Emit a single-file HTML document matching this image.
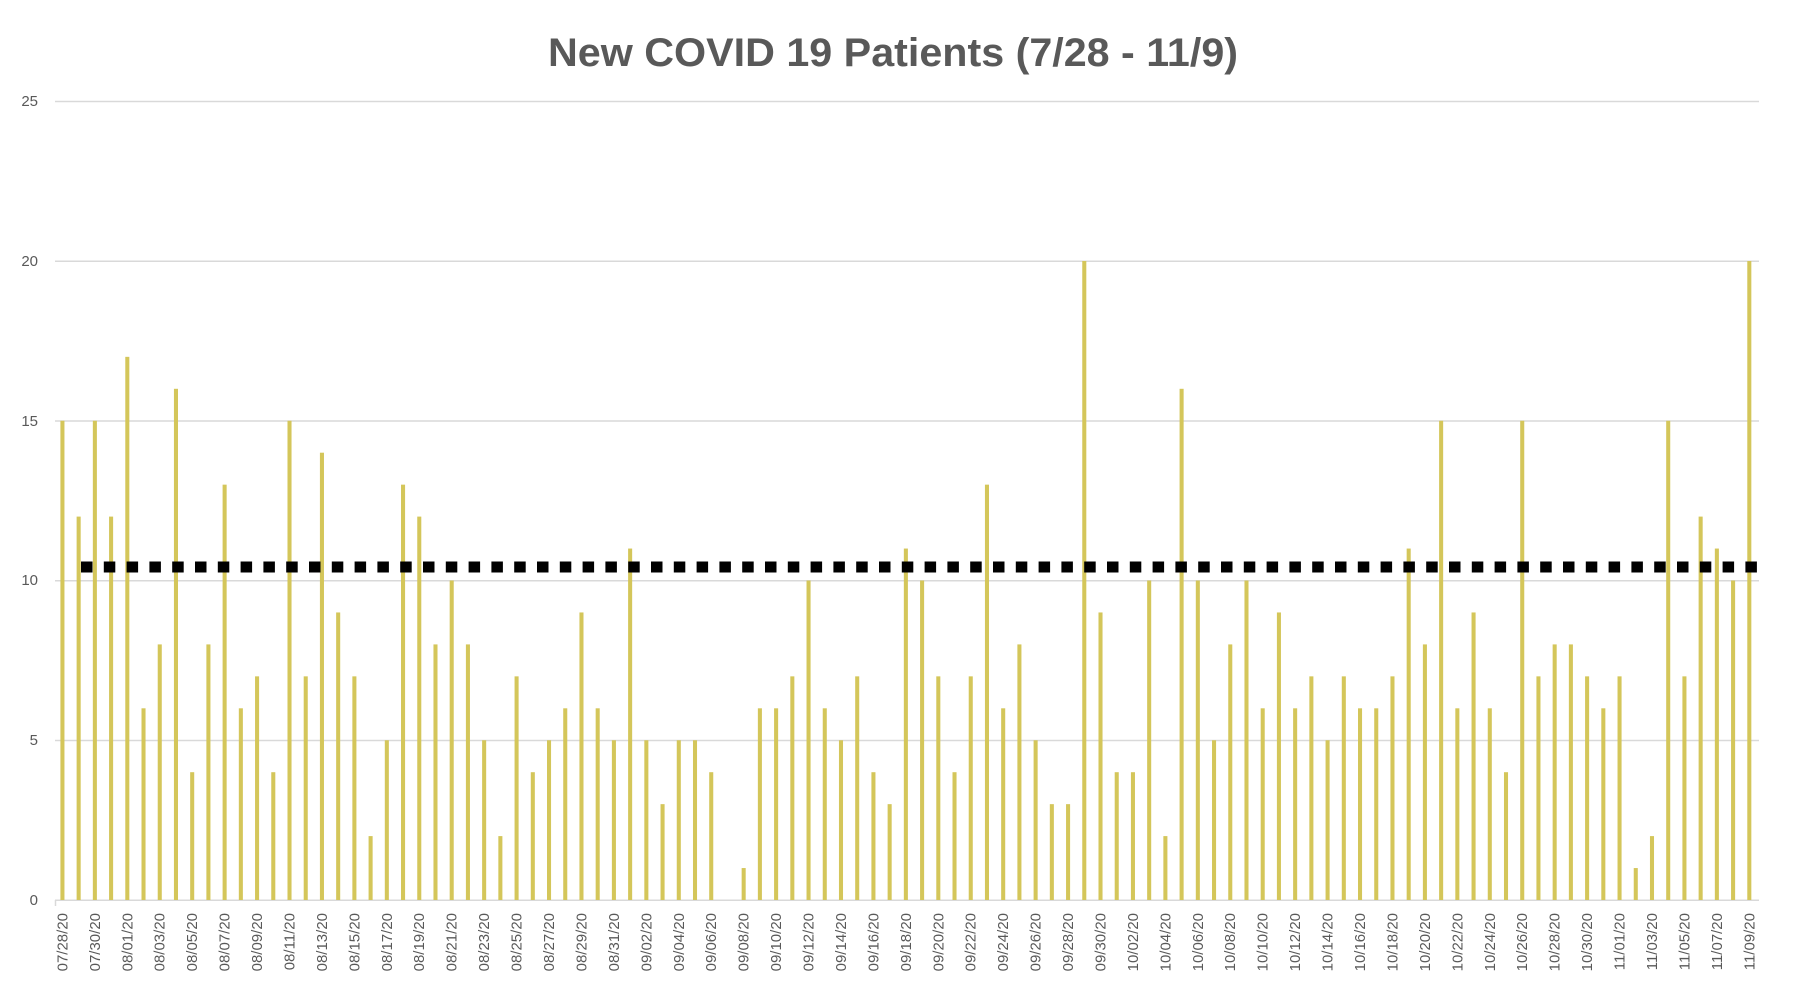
<!DOCTYPE html>
<html><head><meta charset="utf-8"><style>html,body{margin:0;padding:0;background:#fff}svg{display:block}</style></head>
<body>
<svg width="1812" height="1000" viewBox="0 0 1812 1000" xmlns="http://www.w3.org/2000/svg" font-family="Liberation Sans, sans-serif">
<rect width="1812" height="1000" fill="#fff"/>
<text x="893" y="66" text-anchor="middle" font-size="40" font-weight="bold" fill="#595959" textLength="690" lengthAdjust="spacingAndGlyphs">New COVID 19 Patients (7/28 - 11/9)</text>
<g stroke="#d9d9d9" stroke-width="1.5">
<line x1="55" y1="101.5" x2="1759" y2="101.5"/>
<line x1="55" y1="261.3" x2="1759" y2="261.3"/>
<line x1="55" y1="421" x2="1759" y2="421"/>
<line x1="55" y1="580.8" x2="1759" y2="580.8"/>
<line x1="55" y1="740.5" x2="1759" y2="740.5"/>
<line x1="55" y1="900.3" x2="1759" y2="900.3"/>
</g>
<g font-size="15" fill="#595959" text-anchor="end">
<text x="38" y="106">25</text><text x="38" y="266">20</text><text x="38" y="426">15</text><text x="38" y="585">10</text><text x="38" y="745">5</text><text x="38" y="905">0</text>
</g>
<g transform="translate(60.4,900) scale(16.22,-31.95)" fill="#d4c65a">
<rect x="0" width="0.25" height="15"/><rect x="1" width="0.25" height="12"/><rect x="2" width="0.25" height="15"/><rect x="3" width="0.25" height="12"/><rect x="4" width="0.25" height="17"/><rect x="5" width="0.25" height="6"/><rect x="6" width="0.25" height="8"/><rect x="7" width="0.25" height="16"/><rect x="8" width="0.25" height="4"/><rect x="9" width="0.25" height="8"/>
<rect x="10" width="0.25" height="13"/><rect x="11" width="0.25" height="6"/><rect x="12" width="0.25" height="7"/><rect x="13" width="0.25" height="4"/><rect x="14" width="0.25" height="15"/><rect x="15" width="0.25" height="7"/><rect x="16" width="0.25" height="14"/><rect x="17" width="0.25" height="9"/><rect x="18" width="0.25" height="7"/><rect x="19" width="0.25" height="2"/>
<rect x="20" width="0.25" height="5"/><rect x="21" width="0.25" height="13"/><rect x="22" width="0.25" height="12"/><rect x="23" width="0.25" height="8"/><rect x="24" width="0.25" height="10"/><rect x="25" width="0.25" height="8"/><rect x="26" width="0.25" height="5"/><rect x="27" width="0.25" height="2"/><rect x="28" width="0.25" height="7"/><rect x="29" width="0.25" height="4"/>
<rect x="30" width="0.25" height="5"/><rect x="31" width="0.25" height="6"/><rect x="32" width="0.25" height="9"/><rect x="33" width="0.25" height="6"/><rect x="34" width="0.25" height="5"/><rect x="35" width="0.25" height="11"/><rect x="36" width="0.25" height="5"/><rect x="37" width="0.25" height="3"/><rect x="38" width="0.25" height="5"/><rect x="39" width="0.25" height="5"/>
<rect x="40" width="0.25" height="4"/><rect x="42" width="0.25" height="1"/><rect x="43" width="0.25" height="6"/><rect x="44" width="0.25" height="6"/><rect x="45" width="0.25" height="7"/><rect x="46" width="0.25" height="10"/><rect x="47" width="0.25" height="6"/><rect x="48" width="0.25" height="5"/><rect x="49" width="0.25" height="7"/>
<rect x="50" width="0.25" height="4"/><rect x="51" width="0.25" height="3"/><rect x="52" width="0.25" height="11"/><rect x="53" width="0.25" height="10"/><rect x="54" width="0.25" height="7"/><rect x="55" width="0.25" height="4"/><rect x="56" width="0.25" height="7"/><rect x="57" width="0.25" height="13"/><rect x="58" width="0.25" height="6"/><rect x="59" width="0.25" height="8"/>
<rect x="60" width="0.25" height="5"/><rect x="61" width="0.25" height="3"/><rect x="62" width="0.25" height="3"/><rect x="63" width="0.25" height="20"/><rect x="64" width="0.25" height="9"/><rect x="65" width="0.25" height="4"/><rect x="66" width="0.25" height="4"/><rect x="67" width="0.25" height="10"/><rect x="68" width="0.25" height="2"/><rect x="69" width="0.25" height="16"/>
<rect x="70" width="0.25" height="10"/><rect x="71" width="0.25" height="5"/><rect x="72" width="0.25" height="8"/><rect x="73" width="0.25" height="10"/><rect x="74" width="0.25" height="6"/><rect x="75" width="0.25" height="9"/><rect x="76" width="0.25" height="6"/><rect x="77" width="0.25" height="7"/><rect x="78" width="0.25" height="5"/><rect x="79" width="0.25" height="7"/>
<rect x="80" width="0.25" height="6"/><rect x="81" width="0.25" height="6"/><rect x="82" width="0.25" height="7"/><rect x="83" width="0.25" height="11"/><rect x="84" width="0.25" height="8"/><rect x="85" width="0.25" height="15"/><rect x="86" width="0.25" height="6"/><rect x="87" width="0.25" height="9"/><rect x="88" width="0.25" height="6"/><rect x="89" width="0.25" height="4"/>
<rect x="90" width="0.25" height="15"/><rect x="91" width="0.25" height="7"/><rect x="92" width="0.25" height="8"/><rect x="93" width="0.25" height="8"/><rect x="94" width="0.25" height="7"/><rect x="95" width="0.25" height="6"/><rect x="96" width="0.25" height="7"/><rect x="97" width="0.25" height="1"/><rect x="98" width="0.25" height="2"/><rect x="99" width="0.25" height="15"/>
<rect x="100" width="0.25" height="7"/><rect x="101" width="0.25" height="12"/><rect x="102" width="0.25" height="11"/><rect x="103" width="0.25" height="10"/><rect x="104" width="0.25" height="20"/>
</g>
<line x1="81" y1="567" x2="1759" y2="567" stroke="#000" stroke-width="11" stroke-dasharray="11.5 11.3"/>
<g stroke="#d9d9d9" stroke-width="1.5">
<line x1="55.5" y1="900" x2="55.5" y2="906"/>
</g>
<g font-size="15" fill="#595959" text-anchor="end" transform="translate(0,913) rotate(-90)">
<text x="0" y="67.4">07/28/20</text><text x="0" y="99.8">07/30/20</text><text x="0" y="132.3">08/01/20</text><text x="0" y="164.7">08/03/20</text><text x="0" y="197.2">08/05/20</text><text x="0" y="229.6">08/07/20</text><text x="0" y="262.0">08/09/20</text><text x="0" y="294.5">08/11/20</text><text x="0" y="326.9">08/13/20</text><text x="0" y="359.4">08/15/20</text>
<text x="0" y="391.8">08/17/20</text><text x="0" y="424.2">08/19/20</text><text x="0" y="456.7">08/21/20</text><text x="0" y="489.1">08/23/20</text><text x="0" y="521.6">08/25/20</text><text x="0" y="554.0">08/27/20</text><text x="0" y="586.4">08/29/20</text><text x="0" y="618.9">08/31/20</text><text x="0" y="651.3">09/02/20</text><text x="0" y="683.8">09/04/20</text>
<text x="0" y="716.2">09/06/20</text><text x="0" y="748.6">09/08/20</text><text x="0" y="781.1">09/10/20</text><text x="0" y="813.5">09/12/20</text><text x="0" y="846.0">09/14/20</text><text x="0" y="878.4">09/16/20</text><text x="0" y="910.8">09/18/20</text><text x="0" y="943.3">09/20/20</text><text x="0" y="975.7">09/22/20</text><text x="0" y="1008.2">09/24/20</text>
<text x="0" y="1040.6">09/26/20</text><text x="0" y="1073.0">09/28/20</text><text x="0" y="1105.5">09/30/20</text><text x="0" y="1137.9">10/02/20</text><text x="0" y="1170.4">10/04/20</text><text x="0" y="1202.8">10/06/20</text><text x="0" y="1235.2">10/08/20</text><text x="0" y="1267.7">10/10/20</text><text x="0" y="1300.1">10/12/20</text><text x="0" y="1332.6">10/14/20</text>
<text x="0" y="1365.0">10/16/20</text><text x="0" y="1397.4">10/18/20</text><text x="0" y="1429.9">10/20/20</text><text x="0" y="1462.3">10/22/20</text><text x="0" y="1494.8">10/24/20</text><text x="0" y="1527.2">10/26/20</text><text x="0" y="1559.6">10/28/20</text><text x="0" y="1592.1">10/30/20</text><text x="0" y="1624.5">11/01/20</text><text x="0" y="1657.0">11/03/20</text>
<text x="0" y="1689.4">11/05/20</text><text x="0" y="1721.8">11/07/20</text><text x="0" y="1754.3">11/09/20</text>
</g>
</svg>
</body></html>
